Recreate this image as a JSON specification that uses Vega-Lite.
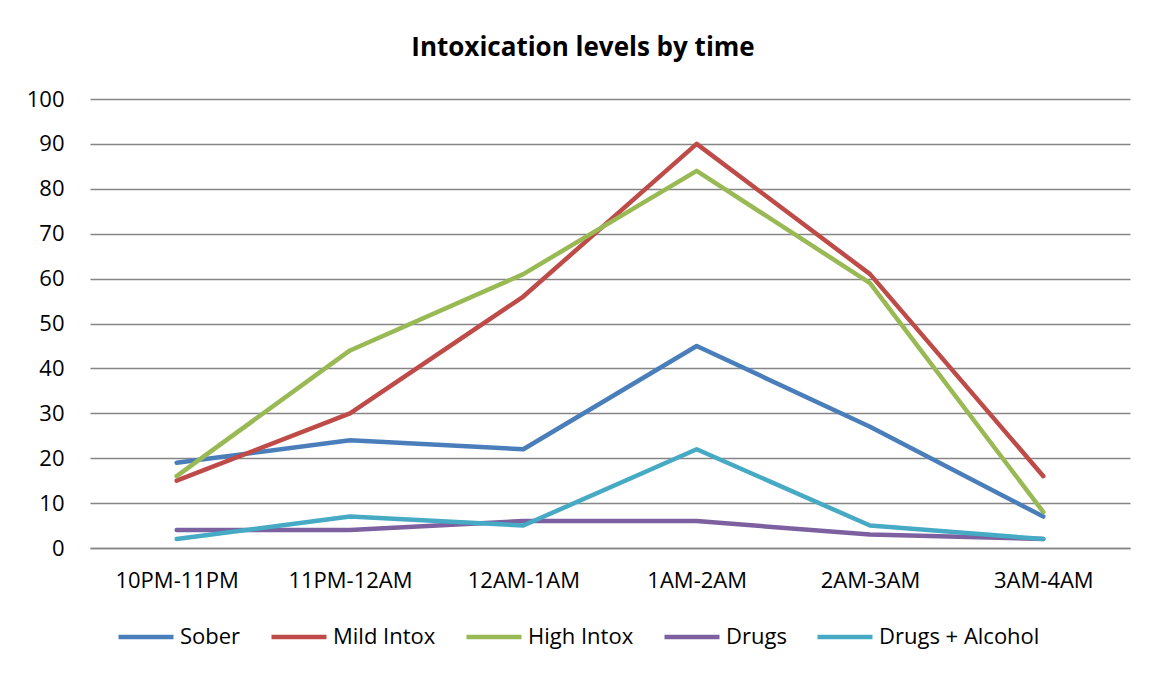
{
  "$schema": "https://vega.github.io/schema/vega-lite/v6.json",
  "autosize": {"type": "none"},
  "width": 1040,
  "height": 449,
  "padding": {"left": 90, "top": 99, "right": 22, "bottom": 127},
  "background": "white",
  "title": {
    "text": "Intoxication levels by time",
    "font": "Open Sans",
    "fontSize": 26,
    "fontWeight": "bold",
    "color": "#000000",
    "anchor": "middle",
    "dx": -27,
    "offset": 27
  },
  "data": {
    "values": [
      {"time": "10PM-11PM", "series": "Sober", "ord": 1, "value": 19},
      {"time": "11PM-12AM", "series": "Sober", "ord": 1, "value": 24},
      {"time": "12AM-1AM", "series": "Sober", "ord": 1, "value": 22},
      {"time": "1AM-2AM", "series": "Sober", "ord": 1, "value": 45},
      {"time": "2AM-3AM", "series": "Sober", "ord": 1, "value": 27},
      {"time": "3AM-4AM", "series": "Sober", "ord": 1, "value": 7},
      {"time": "10PM-11PM", "series": "Mild Intox", "ord": 2, "value": 15},
      {"time": "11PM-12AM", "series": "Mild Intox", "ord": 2, "value": 30},
      {"time": "12AM-1AM", "series": "Mild Intox", "ord": 2, "value": 56},
      {"time": "1AM-2AM", "series": "Mild Intox", "ord": 2, "value": 90},
      {"time": "2AM-3AM", "series": "Mild Intox", "ord": 2, "value": 61},
      {"time": "3AM-4AM", "series": "Mild Intox", "ord": 2, "value": 16},
      {"time": "10PM-11PM", "series": "High Intox", "ord": 3, "value": 16},
      {"time": "11PM-12AM", "series": "High Intox", "ord": 3, "value": 44},
      {"time": "12AM-1AM", "series": "High Intox", "ord": 3, "value": 61},
      {"time": "1AM-2AM", "series": "High Intox", "ord": 3, "value": 84},
      {"time": "2AM-3AM", "series": "High Intox", "ord": 3, "value": 59},
      {"time": "3AM-4AM", "series": "High Intox", "ord": 3, "value": 8},
      {"time": "10PM-11PM", "series": "Drugs", "ord": 4, "value": 4},
      {"time": "11PM-12AM", "series": "Drugs", "ord": 4, "value": 4},
      {"time": "12AM-1AM", "series": "Drugs", "ord": 4, "value": 6},
      {"time": "1AM-2AM", "series": "Drugs", "ord": 4, "value": 6},
      {"time": "2AM-3AM", "series": "Drugs", "ord": 4, "value": 3},
      {"time": "3AM-4AM", "series": "Drugs", "ord": 4, "value": 2},
      {"time": "10PM-11PM", "series": "Drugs + Alcohol", "ord": 5, "value": 2},
      {"time": "11PM-12AM", "series": "Drugs + Alcohol", "ord": 5, "value": 7},
      {"time": "12AM-1AM", "series": "Drugs + Alcohol", "ord": 5, "value": 5},
      {"time": "1AM-2AM", "series": "Drugs + Alcohol", "ord": 5, "value": 22},
      {"time": "2AM-3AM", "series": "Drugs + Alcohol", "ord": 5, "value": 5},
      {"time": "3AM-4AM", "series": "Drugs + Alcohol", "ord": 5, "value": 2}
    ]
  },
  "mark": {"type": "line", "strokeWidth": 4.5, "strokeCap": "round", "strokeJoin": "round"},
  "encoding": {
    "x": {
      "field": "time",
      "type": "nominal",
      "sort": null,
      "scale": {"type": "point", "padding": 0.5},
      "axis": {
        "title": null,
        "labelAngle": 0,
        "labelFont": "Open Sans",
        "labelFontSize": 22,
        "labelColor": "#000000",
        "labelPadding": 22,
        "ticks": false,
        "domain": true,
        "domainColor": "#868686",
        "domainWidth": 1.5,
        "grid": false
      }
    },
    "y": {
      "field": "value",
      "type": "quantitative",
      "scale": {"domain": [0, 100]},
      "axis": {
        "title": null,
        "values": [0, 10, 20, 30, 40, 50, 60, 70, 80, 90, 100],
        "labelFont": "Open Sans",
        "labelFontSize": 22,
        "labelColor": "#000000",
        "labelPadding": 26,
        "ticks": false,
        "domain": false,
        "grid": true,
        "gridColor": "#868686",
        "gridWidth": 1.5
      }
    },
    "color": {
      "field": "series",
      "type": "nominal",
      "sort": ["Sober", "Mild Intox", "High Intox", "Drugs", "Drugs + Alcohol"],
      "scale": {
        "domain": ["Sober", "Mild Intox", "High Intox", "Drugs", "Drugs + Alcohol"],
        "range": ["#4A7EBB", "#BE4B48", "#98B954", "#7D60A0", "#46AAC5"]
      },
      "legend": {
        "title": null,
        "orient": "none",
        "direction": "horizontal",
        "legendX": 26,
        "legendY": 508,
        "padding": 0,
        "symbolType": "stroke",
        "symbolSize": 3025,
        "symbolStrokeWidth": 4.5,
        "labelFont": "Open Sans",
        "labelFontSize": 22,
        "labelColor": "#000000",
        "labelOffset": 4,
        "labelLimit": 400,
        "columnPadding": 21
      }
    },
    "order": {"field": "ord", "type": "quantitative"}
  },
  "config": {
    "view": {"stroke": null}
  }
}
